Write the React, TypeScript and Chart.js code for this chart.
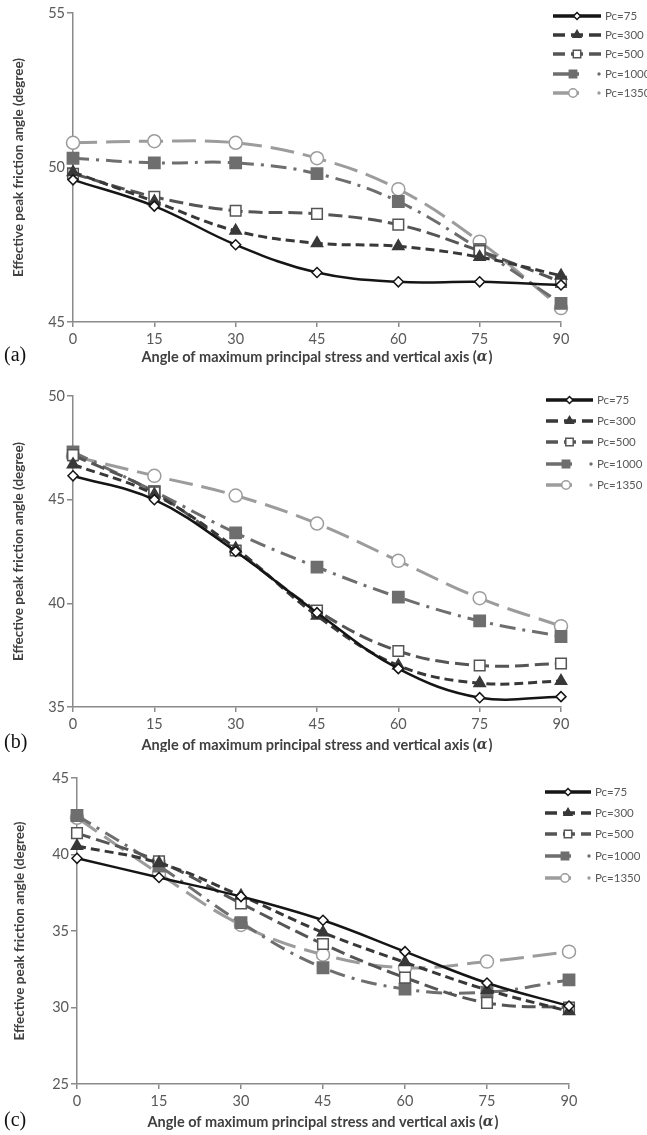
import React, { useEffect, useRef } from 'react';
import { Chart, registerables } from 'chart.js';

Chart.register(...registerables);

// ---------- data ----------
const angles = [0, 15, 30, 45, 60, 75, 90];
const seriesNames = ['Pc=75', 'Pc=300', 'Pc=500', 'Pc=1000', 'Pc=1350'];

const a75 = [49.6, 48.75, 47.5, 46.6, 46.3, 46.3, 46.2];
const a300 = [49.85, 48.9, 47.95, 47.55, 47.45, 47.1, 46.5];
const a500 = [49.8, 49.05, 48.6, 48.5, 48.15, 47.3, 46.3];
const a1000 = [50.3, 50.15, 50.15, 49.8, 48.9, 47.35, 45.6];
const a1350 = [50.8, 50.85, 50.8, 50.3, 49.3, 47.6, 45.45];

const b75 = [46.15, 45.0, 42.5, 39.55, 36.85, 35.45, 35.5];
const b300 = [46.7, 45.25, 42.65, 39.4, 37.0, 36.15, 36.25];
const b500 = [47.15, 45.35, 42.55, 39.65, 37.7, 37.0, 37.1];
const b1000 = [47.3, 45.4, 43.4, 41.75, 40.3, 39.15, 38.4];
const b1350 = [47.1, 46.15, 45.2, 43.85, 42.05, 40.25, 38.9];

const c75 = [39.75, 38.5, 37.25, 35.7, 33.65, 31.6, 30.1];
const c300 = [40.55, 39.45, 37.3, 34.9, 32.95, 31.15, 29.75];
const c500 = [41.4, 39.55, 36.8, 34.15, 31.95, 30.3, 30.0];
const c1000 = [42.55, 39.25, 35.55, 32.6, 31.2, 31.0, 31.8];
const c1350 = [42.4, 38.75, 35.4, 33.45, 32.6, 33.0, 33.65];

const xTicks = [0, 15, 30, 45, 60, 75, 90];
const Y_TITLE = 'Effective peak friction angle (degree)';
const X_TITLE_A = 'Angle of maximum principal stress and vertical axis (';
const X_TITLE_B = 'α';
const X_TITLE_C = ')';

// ---------- styles ----------
type Sty = { color: string; dash: number[]; width: number; point: string; radius: number; fill: string };
const styles: Sty[] = [
  { color: '#151515', dash: [], width: 2.5, point: 'rectRot', radius: 5, fill: '#ffffff' },
  { color: '#383838', dash: [9, 5], width: 3, point: 'triangle', radius: 6.5, fill: '#383838' },
  { color: '#555555', dash: [14, 6], width: 3, point: 'rect', radius: 7.5, fill: '#ffffff' },
  { color: '#6e6e6e', dash: [16, 7, 3, 7], width: 3, point: 'rect', radius: 8, fill: '#6e6e6e' },
  { color: '#9c9c9c', dash: [24, 9], width: 3, point: 'circle', radius: 6.5, fill: '#ffffff' },
];

type Panel = {
  top: number; height: number; yMin: number; yMax: number;
  plotTop: number; plotBottom: number; plotLeft: number; plotRight: number;
  series: number[][]; tag: string;
  legendRows: number[]; legendX0: number; legendX1: number; legendTextX: number;
  yTitleX: number; xTitleY: number; tagY: number;
};

const panels: Panel[] = [
  {
    top: 0, height: 370, yMin: 45, yMax: 55, plotTop: 13, plotBottom: 322, plotLeft: 73, plotRight: 561,
    series: [a75, a300, a500, a1000, a1350], tag: '(a)',
    legendRows: [16, 35, 54, 74, 93], legendX0: 553, legendX1: 601, legendTextX: 605,
    yTitleX: 19, xTitleY: 357, tagY: 356,
  },
  {
    top: 370, height: 382, yMin: 35, yMax: 50, plotTop: 396, plotBottom: 707, plotLeft: 73, plotRight: 561,
    series: [b75, b300, b500, b1000, b1350], tag: '(b)',
    legendRows: [400, 421, 442, 464, 485], legendX0: 546, legendX1: 593, legendTextX: 597,
    yTitleX: 19, xTitleY: 745, tagY: 743,
  },
  {
    top: 752, height: 383, yMin: 25, yMax: 45, plotTop: 778, plotBottom: 1084, plotLeft: 77, plotRight: 569,
    series: [c75, c300, c500, c1000, c1350], tag: '(c)',
    legendRows: [792, 813, 834, 856, 878], legendX0: 545, legendX1: 591, legendTextX: 595,
    yTitleX: 20, xTitleY: 1122, tagY: 1121,
  },
];

function drawMarker(ctx: CanvasRenderingContext2D, s: Sty, x: number, y: number, r: number) {
  ctx.save();
  ctx.setLineDash([]);
  ctx.fillStyle = s.fill;
  ctx.strokeStyle = s.color;
  ctx.lineWidth = 1.5;
  ctx.beginPath();
  if (s.point === 'circle') {
    ctx.arc(x, y, r, 0, Math.PI * 2);
  } else if (s.point === 'rect') {
    const h = r * Math.SQRT1_2;
    ctx.rect(x - h, y - h, 2 * h, 2 * h);
  } else if (s.point === 'rectRot') {
    ctx.moveTo(x, y - r); ctx.lineTo(x + r, y); ctx.lineTo(x, y + r); ctx.lineTo(x - r, y); ctx.closePath();
  } else if (s.point === 'triangle') {
    ctx.moveTo(x, y - r); ctx.lineTo(x + r * 0.866, y + r * 0.5); ctx.lineTo(x - r * 0.866, y + r * 0.5); ctx.closePath();
  }
  ctx.fill();
  ctx.stroke();
  ctx.restore();
}

function makeOverlay(p: Panel) {
  return {
    id: 'overlay' + p.tag,
    afterDraw(chart: any) {
      const ctx: CanvasRenderingContext2D = chart.ctx;
      const ca = chart.chartArea;
      ctx.save();
      // y title
      ctx.fillStyle = '#404040';
      ctx.font = 'bold 13.5px Lato';
      ctx.textAlign = 'center';
      ctx.textBaseline = 'middle';
      ctx.save();
      ctx.translate(p.yTitleX, (ca.top + ca.bottom) / 2);
      ctx.rotate(-Math.PI / 2);
      ctx.fillText(Y_TITLE, 0, 0);
      ctx.restore();
      // x title with italic alpha
      ctx.textAlign = 'left';
      const f1 = 'bold 14.5px Lato';
      const f2 = 'bold italic 14px "DejaVu Serif"';
      ctx.font = f1;
      const w1 = ctx.measureText(X_TITLE_A).width;
      const w3 = ctx.measureText(X_TITLE_C).width;
      ctx.font = f2;
      const w2 = ctx.measureText(X_TITLE_B).width;
      const total = w1 + w2 + w3 + 1;
      let x = (ca.left + ca.right) / 2 - total / 2;
      const ty = p.xTitleY - p.top;
      ctx.font = f1; ctx.fillText(X_TITLE_A, x, ty); x += w1;
      ctx.font = f2; ctx.fillText(X_TITLE_B, x, ty); x += w2 + 1;
      ctx.font = f1; ctx.fillText(X_TITLE_C, x, ty);
      // panel tag
      ctx.fillStyle = '#111111';
      ctx.font = '20px "Liberation Serif"';
      ctx.fillText(p.tag, 4, p.tagY - p.top);
      // legend
      styles.forEach((s, i) => {
        const ry = p.legendRows[i] - p.top;
        const x0 = p.legendX0, x1 = p.legendX1;
        ctx.save();
        ctx.strokeStyle = s.color;
        ctx.lineWidth = 3.5;
        ctx.beginPath();
        if (i < 3) {
          if (i === 0) ctx.setLineDash([]);
          else ctx.setLineDash([12, 6]);
          ctx.moveTo(x0, ry); ctx.lineTo(x1, ry);
          ctx.stroke();
          drawMarker(ctx, s, (x0 + x1) / 2, ry, s.radius * 0.7);
        } else {
          ctx.setLineDash([]);
          ctx.moveTo(x0, ry); ctx.lineTo(x0 + 26, ry);
          ctx.stroke();
          drawMarker(ctx, s, x0 + 20, ry, s.radius * 0.65);
          ctx.fillStyle = s.color;
          ctx.beginPath();
          ctx.arc(x1 - 2, ry, 1.7, 0, Math.PI * 2);
          ctx.fill();
        }
        ctx.restore();
        ctx.fillStyle = '#595959';
        ctx.font = '11.5px Lato';
        ctx.textBaseline = 'middle';
        ctx.textAlign = 'left';
        ctx.fillText(seriesNames[i], p.legendTextX, ry);
      });
      ctx.restore();
    },
  };
}

function buildConfig(p: Panel): any {
  const W = 647;
  const axisColor = '#8a8a8a';
  const yAxisWidth = p.plotLeft;
  const xAxisHeight = p.top + p.height - p.plotBottom;
  return {
    type: 'line',
    data: {
      datasets: p.series.map((vals, i) => {
        const s = styles[i];
        return {
          label: seriesNames[i],
          data: angles.map((a, k) => ({ x: a, y: vals[k] })),
          borderColor: s.color,
          borderWidth: s.width,
          borderDash: s.dash,
          pointStyle: s.point,
          pointRadius: s.radius,
          pointBackgroundColor: s.fill,
          pointBorderColor: s.color,
          pointBorderWidth: 1.5,
          tension: 0.38,
          fill: false,
          clip: false,
        };
      }),
    },
    options: {
      animation: false,
      responsive: false,
      maintainAspectRatio: false,
      events: [],
      layout: { padding: { top: p.plotTop - p.top, right: W - p.plotRight, left: 0, bottom: 0 } },
      plugins: { legend: { display: false }, tooltip: { enabled: false }, title: { display: false } },
      scales: {
        x: {
          type: 'linear', min: 0, max: 90,
          border: { display: true, color: axisColor, width: 1.5 },
          grid: { display: true, drawOnChartArea: false, drawTicks: true, tickLength: 5, color: axisColor, lineWidth: 1.5 },
          afterBuildTicks: (s: any) => { s.ticks = xTicks.map((v) => ({ value: v })); },
          ticks: { font: { family: 'Lato', size: 14.5 }, color: '#595959', padding: 4, maxRotation: 0, autoSkip: false },
          afterFit: (s: any) => { s.height = xAxisHeight; s.paddingLeft = 0; s.paddingRight = 0; },
        },
        y: {
          type: 'linear', min: p.yMin, max: p.yMax,
          border: { display: true, color: axisColor, width: 1.5 },
          grid: { display: true, drawOnChartArea: false, drawTicks: true, tickLength: 6, color: axisColor, lineWidth: 1.5 },
          ticks: { stepSize: 5, font: { family: 'Lato', size: 14.5 }, color: '#595959', padding: 2 },
          afterFit: (s: any) => { s.width = yAxisWidth; s.paddingTop = 0; s.paddingBottom = 0; },
        },
      },
    },
    plugins: [makeOverlay(p)],
  };
}

function PanelChart({ p }: { p: Panel }) {
  const ref = useRef<HTMLCanvasElement | null>(null);
  useEffect(() => {
    if (!ref.current) return;
    const chart = new Chart(ref.current, buildConfig(p));
    return () => chart.destroy();
  }, [p]);
  return (
    <canvas
      ref={ref}
      width={647}
      height={p.height}
      style={{ position: 'absolute', left: 0, top: p.top, width: 647, height: p.height, display: 'block' }}
    />
  );
}

export default function App() {
  return (
    <div style={{ position: 'absolute', left: 0, top: 0, width: 647, height: 1135, background: '#ffffff', overflow: 'hidden' }}>
      {panels.map((p) => (
        <PanelChart key={p.tag} p={p} />
      ))}
    </div>
  );
}
